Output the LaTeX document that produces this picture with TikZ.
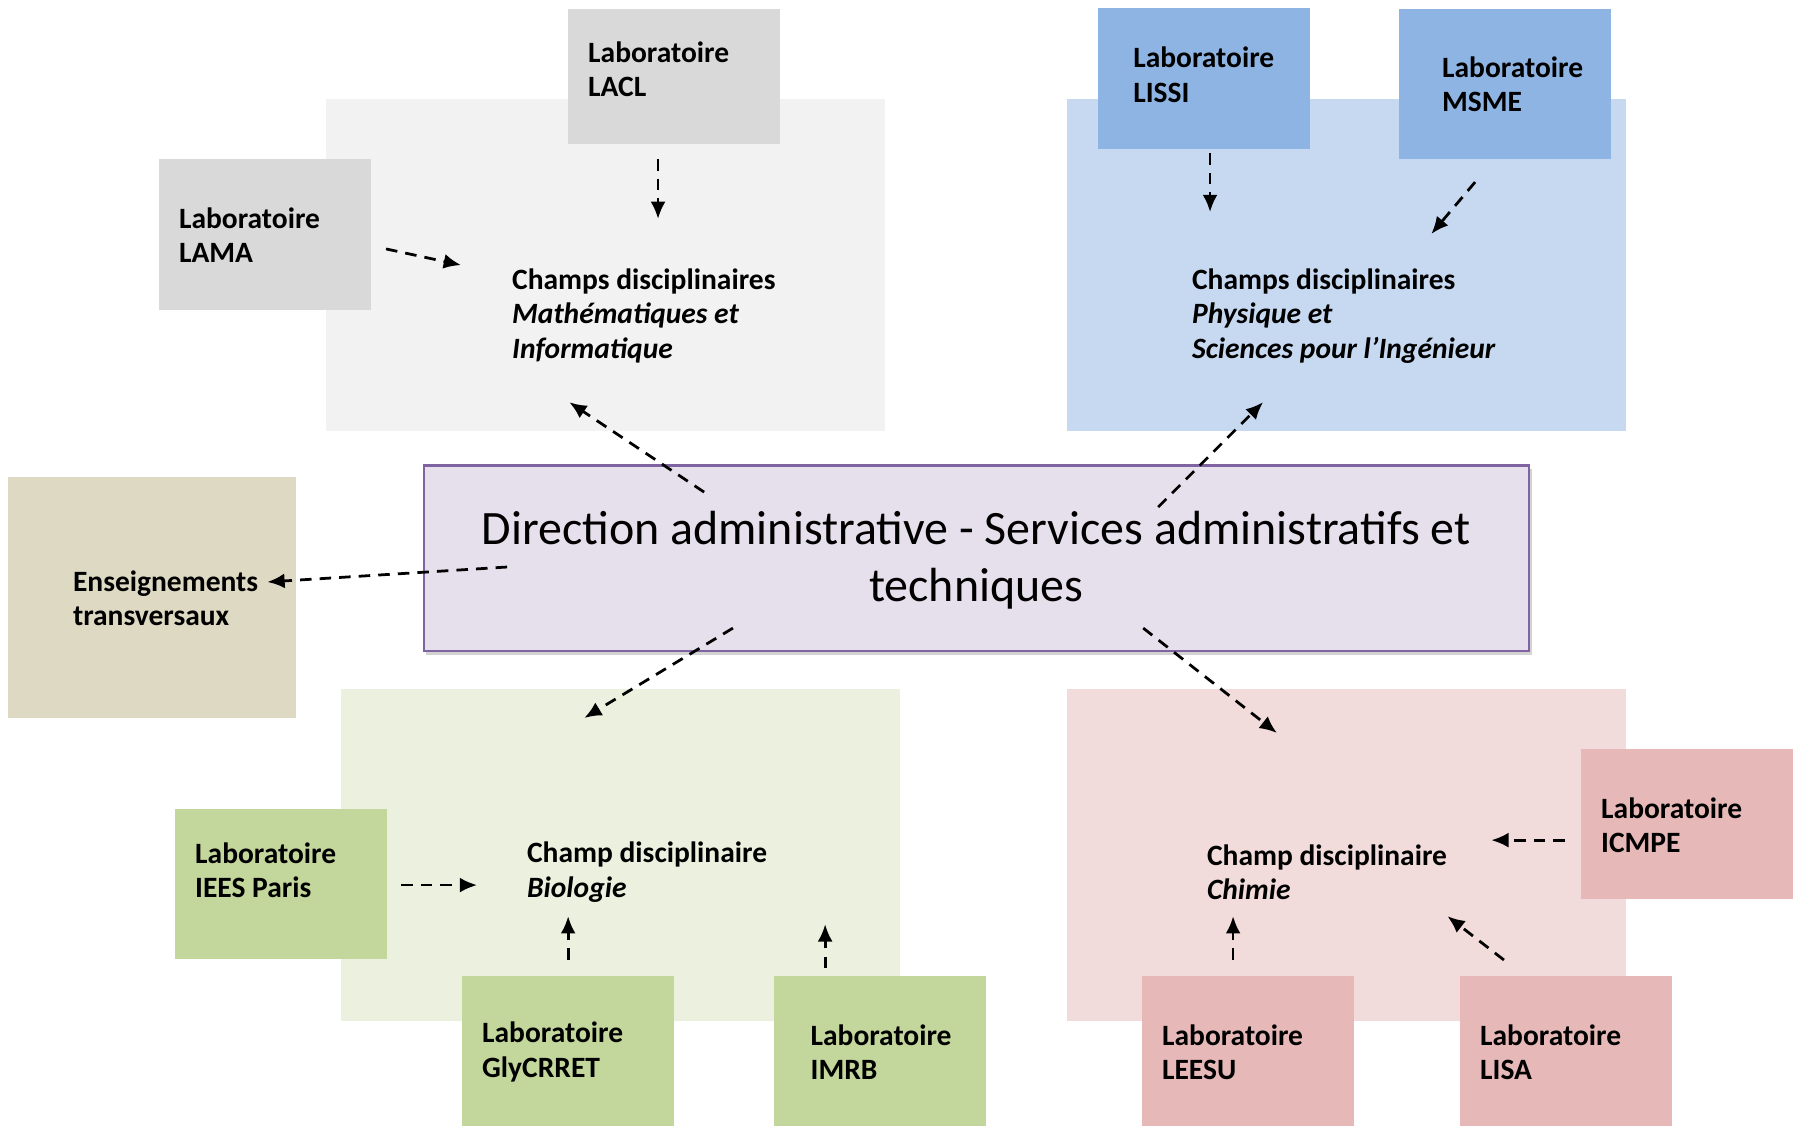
\documentclass[tikz,border=0pt]{standalone}
\usepackage{fontspec}
\setmainfont{Carlito}
\usetikzlibrary{arrows.meta,shadows}
\definecolor{mathbg}{HTML}{F2F2F2}
\definecolor{mathlab}{HTML}{D9D9D9}
\definecolor{physbg}{HTML}{C6D9F1}
\definecolor{physlab}{HTML}{8EB4E3}
\definecolor{biobg}{HTML}{EBF1DE}
\definecolor{biolab}{HTML}{C3D69B}
\definecolor{chembg}{HTML}{F2DCDB}
\definecolor{chemlab}{HTML}{E6B9B8}
\definecolor{ensbg}{HTML}{DDD9C3}
\definecolor{centralbg}{HTML}{E5E0EC}
\definecolor{centralbd}{HTML}{8064A2}
\tikzset{
  area/.style={draw=none,inner sep=0,outer sep=0,anchor=north west,minimum width=242.5pt,minimum height=144pt},
  labbox/.style={draw=none,inner sep=0,outer sep=0,anchor=north west,minimum width=92pt,minimum height=65pt},
  labtext/.style={font=\bfseries\fontsize{12.8}{15}\selectfont,align=left,anchor=west,inner sep=0},
  link/.style={dashed,dash pattern=on 5pt off 3.5pt,line width=1.2pt,-{Latex[length=7.5pt,width=6.5pt]}}
}
\begin{document}
\begin{tikzpicture}[x=0.5pt,y=-0.5pt]
\useasboundingbox (0,0) rectangle (1568,982);
% discipline areas
\node[area,fill=mathbg] (mathA) at (283,86) {};
\node[area,fill=physbg] (physA) at (926,86) {};
\node[area,fill=biobg] (bioA) at (296,598) {};
\node[area,fill=chembg] (chemA) at (926,598) {};
% labs
\node[labbox,fill=mathlab,minimum height=58.5pt] (lacl) at (493,8) {};
\node[labbox,fill=mathlab,minimum height=65.5pt] (lama) at (138,138) {};
\node[labbox,fill=physlab,minimum height=61pt] (lissi) at (953,7) {};
\node[labbox,fill=physlab] (msme) at (1214,8) {};
\node[labbox,fill=biolab] (iees) at (152,702) {};
\node[labbox,fill=biolab] (gly) at (401,847) {};
\node[labbox,fill=biolab] (imrb) at (672,847) {};
\node[labbox,fill=chemlab] (icmpe) at (1372,650) {};
\node[labbox,fill=chemlab] (leesu) at (991,847) {};
\node[labbox,fill=chemlab] (lisa) at (1267,847) {};
\node[draw=none,inner sep=0,outer sep=0,anchor=north west,minimum width=125pt,minimum height=104.5pt,fill=ensbg] (ens) at (7,414) {};
% lab texts
\node[labtext] (tlacl) at (510,60) {Laboratoire\\LACL};
\node[labtext] (tlama) at (155,204) {Laboratoire\\LAMA};
\node[labtext] (tlissi) at (983,65) {Laboratoire\\LISSI};
\node[labtext] (tmsme) at (1251,73) {Laboratoire\\MSME};
\node[labtext] (tiees) at (169,755) {Laboratoire\\IEES Paris};
\node[labtext] (tgly) at (418,913) {Laboratoire\\GlyCRRET};
\node[labtext] (timrb) at (703,913) {Laboratoire\\IMRB};
\node[labtext] (ticmpe) at (1389,716) {Laboratoire\\ICMPE};
\node[labtext] (tleesu) at (1008,913) {Laboratoire\\LEESU};
\node[labtext] (tlisa) at (1284,913) {Laboratoire\\LISA};
\node[labtext] (tens) at (63,519) {Enseignements\\transversaux};
% discipline texts
\node[labtext] (tmath) at (444,274) {Champs disciplinaires\\\textit{Mathématiques et}\\\textit{Informatique}};
\node[labtext] (tphys) at (1034,274) {Champs disciplinaires\\\textit{Physique et}\\\textit{Sciences pour l’Ingénieur}};
\node[labtext] (tbio) at (457,757) {Champ disciplinaire\\\textit{Biologie}};
\node[labtext] (tchem) at (1047,757) {Champ disciplinaire\\\textit{Chimie}};
% central
\node[draw=centralbd,line width=1pt,fill=centralbg,inner sep=0,outer sep=0,anchor=north west,
  minimum width=479.5pt,minimum height=80.5pt,
  drop shadow={shadow xshift=1pt,shadow yshift=-1.5pt,opacity=0.35}] (central) at (368,404) {};
\node[font=\fontsize{20.8}{25}\selectfont,align=center,inner sep=0] (tcentral) at (847,486) {Direction administrative - Services administratifs et\\techniques};
% arrow end points
\coordinate (a1s) at (571,138); \coordinate (a1e) at (571,190);
\coordinate (a2s) at (335,216); \coordinate (a2e) at (400,230);
\coordinate (a3s) at (611,427); \coordinate (a3e) at (494,349);
\coordinate (b1s) at (1050,133); \coordinate (b1e) at (1050,184);
\coordinate (b2s) at (1280,158); \coordinate (b2e) at (1242,203);
\coordinate (b3s) at (1005,440); \coordinate (b3e) at (1096,349);
\coordinate (es) at (440,492); \coordinate (ee) at (232,505);
\coordinate (c1s) at (348,768); \coordinate (c1e) at (414,768);
\coordinate (c2s) at (493,833); \coordinate (c2e) at (493,795);
\coordinate (c3s) at (716,840); \coordinate (c3e) at (716,802);
\coordinate (c4s) at (636,545); \coordinate (c4e) at (507,623);
\coordinate (d1s) at (1358,729); \coordinate (d1e) at (1294,729);
\coordinate (d2s) at (1070,833); \coordinate (d2e) at (1070,795);
\coordinate (d3s) at (1305,833); \coordinate (d3e) at (1256,795);
\coordinate (d4s) at (992,545); \coordinate (d4e) at (1108,636);
\foreach \p in {a1,a2,a3,b1,b2,b3,e,c1,c2,c3,c4,d1,d2,d3,d4}{
  \draw[link] (\p s) -- (\p e);
}
\end{tikzpicture}
\end{document}
